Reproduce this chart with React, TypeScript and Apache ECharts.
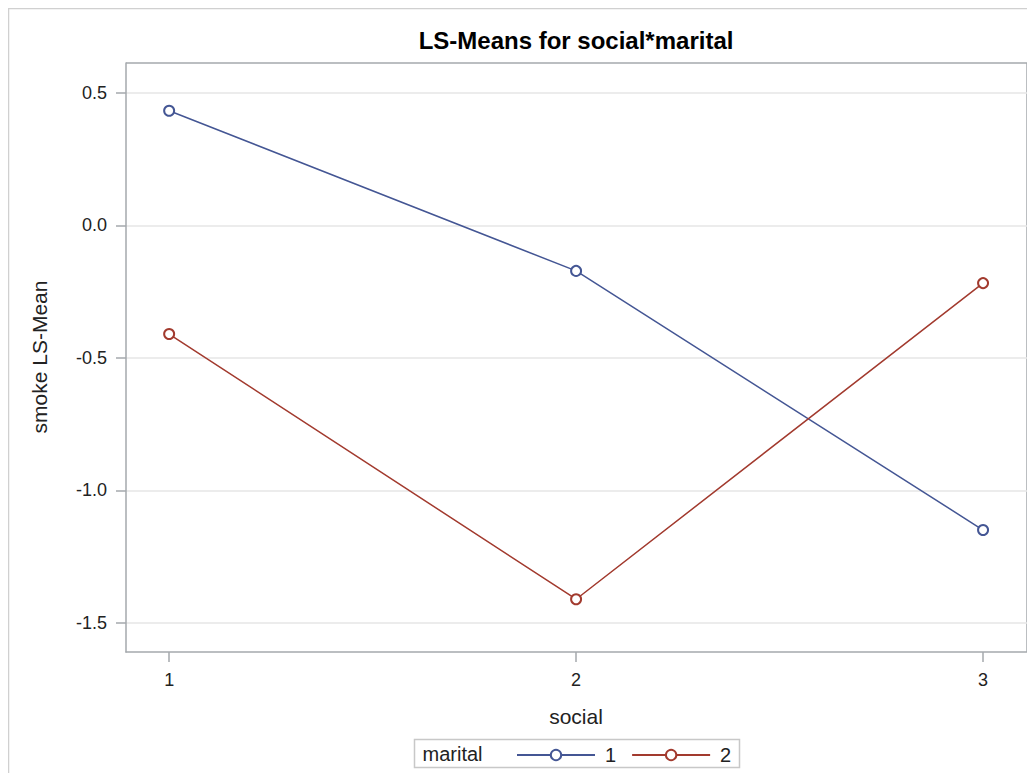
import React, { useEffect, useRef } from "react";
import * as echarts from "echarts";

const socialLevels = [1, 2, 3];
const marital1 = [0.432, -0.172, -1.149];
const marital2 = [-0.41, -1.41, -0.218];
const yTicks = [-1.5, -1.0, -0.5, 0.0, 0.5];
const xTicks = [1, 2, 3];
const seriesNames = ["1", "2"];
const colors = ["#445694", "#A23A2E"];

const FONT = "'Liberation Sans', Arial, sans-serif";

export default function App() {
  const ref = useRef<HTMLDivElement>(null);
  useEffect(() => {
    if (!ref.current) return;
    const chart = echarts.init(ref.current, undefined, { renderer: "svg" });
    const mk = (vals: number[], i: number) => ({
      name: seriesNames[i],
      type: "line",
      data: socialLevels.map((x, k) => [x, vals[k]]),
      symbol: "emptyCircle",
      symbolSize: 10,
      color: colors[i],
      lineStyle: { color: colors[i], width: 1.5 },
      itemStyle: { color: colors[i], borderColor: colors[i], borderWidth: 1.5 },
      emphasis: { disabled: true },
    });
    chart.setOption({
      animation: false,
      textStyle: { fontFamily: FONT },
      grid: { left: 118, top: 55, right: 8, bottom: 121, containLabel: false },
      xAxis: {
        type: "value",
        min: 0.894,
        max: 3.108,
        axisLine: { show: true, onZero: false, lineStyle: { color: "#a5a9ad", width: 1.5 } },
        axisTick: { show: true, length: 10, customValues: xTicks, lineStyle: { color: "#a5a9ad", width: 1.5 } },
        axisLabel: { customValues: xTicks, margin: 19, fontSize: 18, color: "#222", fontFamily: FONT, formatter: (v: number) => String(v) },
        splitLine: { show: false },
      },
      yAxis: {
        type: "value",
        min: -1.609,
        max: 0.612,
        axisLine: { show: true, onZero: false, lineStyle: { color: "#a5a9ad", width: 1.5 } },
        axisTick: { show: true, length: 10, customValues: yTicks, lineStyle: { color: "#a5a9ad", width: 1.5 } },
        axisLabel: { customValues: yTicks, margin: 19, fontSize: 18, color: "#222", fontFamily: FONT, formatter: (v: number) => v.toFixed(1) },
        splitLine: { show: true, lineStyle: { color: "#e6e6e6", width: 1.5 } },
      },
      legend: {
        left: 508,
        top: 737,
        padding: 0,
        itemWidth: 78,
        itemHeight: 13,
        itemGap: 15,
        data: seriesNames,
        textStyle: { fontSize: 20, color: "#222", fontFamily: FONT, padding: [0, 0, 0, 5] },
      },
      graphic: [
        { type: "rect", shape: { x: 0.5, y: 0.5, width: 1100, height: 900 }, style: { fill: "none", stroke: "#d0d0d0", lineWidth: 1.5 }, silent: true },
        { type: "rect", shape: { x: 1019, y: 55, width: 0, height: 589 }, style: { fill: "none", stroke: "#a5a9ad", lineWidth: 1.5 }, silent: true },
        { type: "rect", shape: { x: 118, y: 55, width: 901, height: 0 }, style: { fill: "none", stroke: "#a5a9ad", lineWidth: 1.5 }, silent: true },
        { type: "text", x: 568, y: 32, style: { text: "LS-Means for social*marital", font: `bold 24px ${FONT}`, fill: "#000", textAlign: "center", textVerticalAlign: "middle" } },
        { type: "text", x: 31, y: 349, rotation: Math.PI / 2, style: { text: "smoke LS-Mean", font: `21px ${FONT}`, fill: "#222", textAlign: "center", textVerticalAlign: "middle" } },
        { type: "text", x: 568, y: 708, style: { text: "social", font: `21px ${FONT}`, fill: "#222", textAlign: "center", textVerticalAlign: "middle" } },
        { type: "rect", shape: { x: 406.5, y: 731.5, width: 325, height: 28 }, style: { fill: "none", stroke: "#c8c8c8", lineWidth: 1.5 }, silent: true },
        { type: "text", x: 414.5, y: 746, style: { text: "marital", font: `20px ${FONT}`, fill: "#222", textAlign: "left", textVerticalAlign: "middle" } },
      ],
      series: [mk(marital1, 0), mk(marital2, 1)],
    });
    return () => chart.dispose();
  }, []);
  return <div ref={ref} style={{ width: 1027, height: 765, overflow: "hidden" }} />;
}
